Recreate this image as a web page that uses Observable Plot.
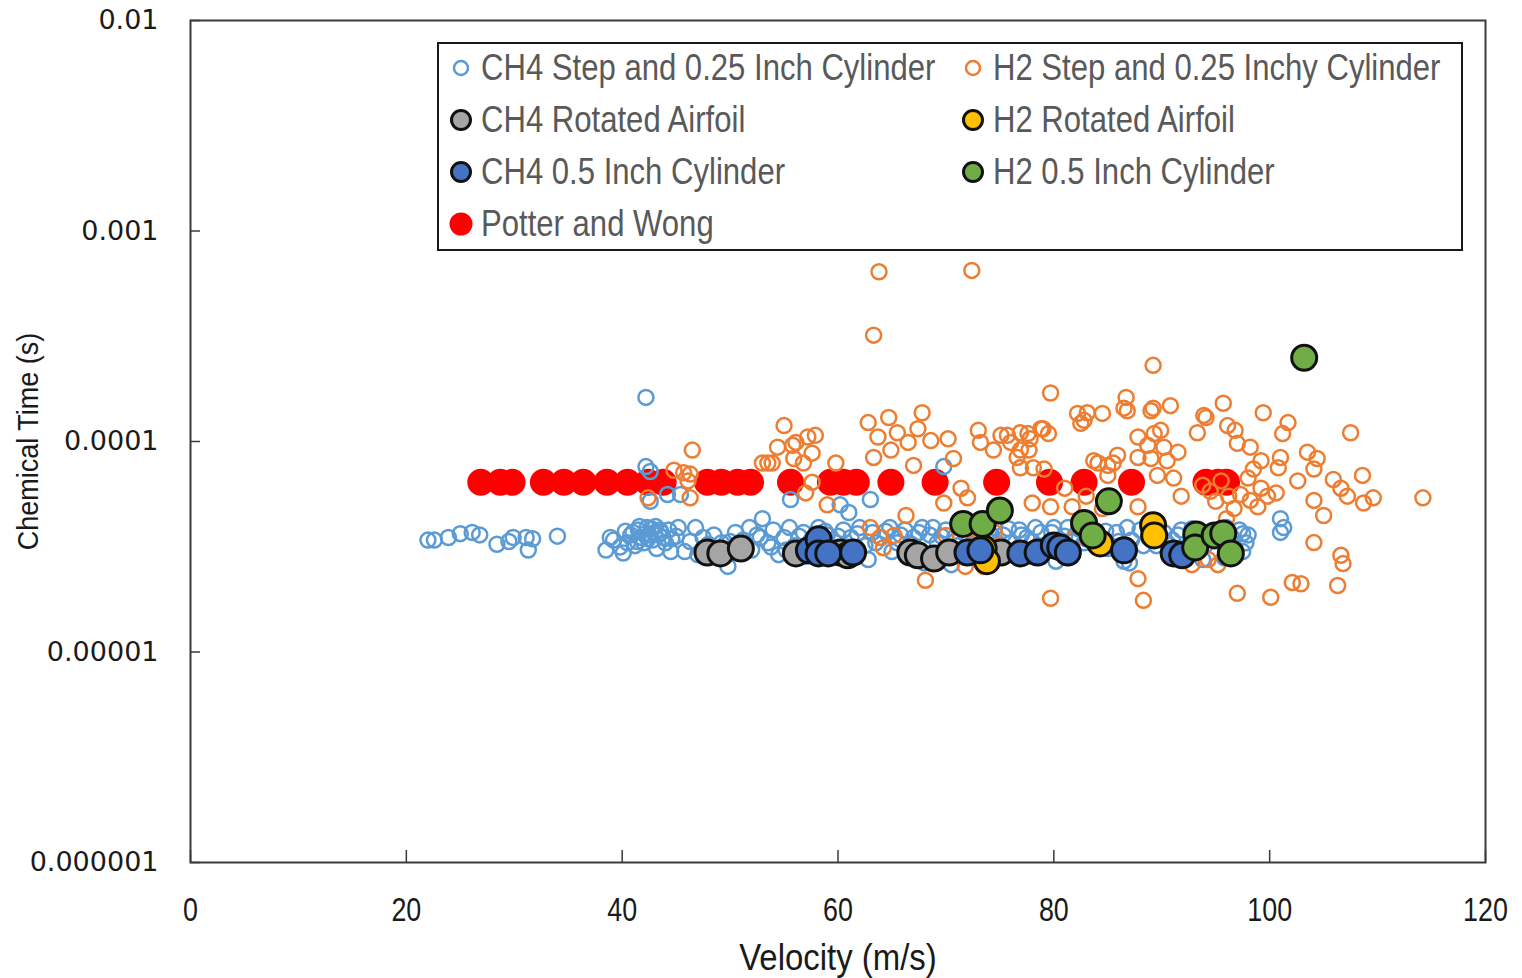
<!DOCTYPE html>
<html>
<head>
<meta charset="utf-8">
<script src="https://cdn.jsdelivr.net/npm/d3@7"></script>
<script src="https://cdn.jsdelivr.net/npm/@observablehq/plot@0.6"></script>
<style>
  html, body { margin: 0; padding: 0; background: #fff; }
  #wrap { position: relative; width: 1522px; height: 978px; }
  #legend { position: absolute; left: 437px; top: 42px; width: 1026px; height: 209px;
    box-sizing: border-box; border: 2px solid #1a1a1a; background: #fff; }
  .item { position: absolute; height: 40px; display: flex; align-items: center;
    font-family: "Liberation Sans", Arial, sans-serif; font-size: 37px; color: #595959; white-space: nowrap; }
  .item svg { margin-right: 4px; flex: none; }
  .item span { display: inline-block; transform: scaleX(0.84); transform-origin: left center; }
</style>
</head>
<body>
<div id="wrap"><div id="chart"></div><div id="legend"></div></div>
<script>
// ---- tick values and labels ----
const xTicks = [0, 20, 40, 60, 80, 100, 120];
const yTicks = [1e-2, 1e-3, 1e-4, 1e-5, 1e-6];
const yTickLabels = ["0.01", "0.001", "0.0001", "0.00001", "0.000001"];

// ---- series names ----
const seriesNames = [
  "CH4 Step and 0.25 Inch Cylinder", "H2 Step and 0.25 Inchy Cylinder",
  "CH4 Rotated Airfoil", "H2 Rotated Airfoil",
  "CH4 0.5 Inch Cylinder", "H2 0.5 Inch Cylinder",
  "Potter and Wong"
];

// ---- data: [velocity m/s, chemical time s] ----
const ch4Step = [
  [22.0,3.4e-5],[22.6,3.4e-5],[23.9,3.5e-5],[25.0,3.65e-5],[26.1,3.7e-5],[26.8,3.6e-5],[28.4,3.25e-5],
  [29.5,3.35e-5],[29.9,3.5e-5],[31.1,3.5e-5],[31.3,3.05e-5],[31.7,3.45e-5],[34.0,3.55e-5],
  [42.2,1.62e-4],[42.2,7.6e-5],[42.6,7.2e-5],[42.6,5.2e-5],[44.2,5.6e-5],[45.4,5.6e-5],
  [55.6,5.3e-5],[60.2,5.0e-5],[63.0,5.3e-5],[69.8,7.6e-5],[61.0,4.6e-5],
  [38.5,3.05e-5],[39.2,3.4e-5],[40.1,2.95e-5],[40.8,3.6e-5],[41.2,3.2e-5],[41.5,3.8e-5],[41.8,3.5e-5],
  [42.0,3.3e-5],[42.3,3.9e-5],[42.5,3.6e-5],[42.8,3.4e-5],[43.0,3.7e-5],[43.2,3.1e-5],[43.5,3.8e-5],
  [43.8,3.5e-5],[44.0,3.3e-5],[44.5,3.0e-5],[45.2,3.9e-5],[45.8,3.0e-5],[40.5,3.3e-5],[41.0,3.7e-5],
  [43.4,3.6e-5],[44.6,3.45e-5],[39.8,3.15e-5],[46.3,3.35e-5],
  [40.3,3.75e-5],[41.6,3.95e-5],[42.1,3.65e-5],[42.7,3.85e-5],[43.1,3.95e-5],[43.6,3.7e-5],[42.4,3.45e-5],
  [41.4,3.35e-5],[44.3,3.8e-5],[45.0,3.55e-5],[38.9,3.5e-5],[46.8,3.9e-5],
  [47.5,3.5e-5],[48.5,3.6e-5],[49.2,3.3e-5],[49.8,2.55e-5],[50.5,3.7e-5],[51.2,3.4e-5],[51.8,3.9e-5],
  [52.5,3.6e-5],[53.0,4.3e-5],[53.5,3.3e-5],[54.0,3.8e-5],[54.5,2.9e-5],[55.0,3.5e-5],[55.5,3.9e-5],
  [56.0,3.2e-5],[56.8,3.7e-5],[57.5,3.4e-5],[58.2,3.9e-5],[59.0,3.6e-5],[59.8,3.3e-5],[60.5,3.8e-5],
  [61.2,3.5e-5],[62.0,3.9e-5],[62.5,3.2e-5],[63.2,3.7e-5],[64.0,3.5e-5],[64.8,3.9e-5],[65.5,3.3e-5],
  [66.2,3.8e-5],[67.0,3.5e-5],[67.8,3.9e-5],[68.5,3.6e-5],[69.2,3.3e-5],[70.0,3.8e-5],[70.8,3.5e-5],
  [71.5,3.9e-5],[72.3,3.2e-5],[73.0,3.7e-5],[73.8,3.4e-5],[74.5,3.9e-5],[75.3,3.6e-5],[76.0,3.3e-5],
  [76.8,3.8e-5],[77.5,3.5e-5],[78.3,3.9e-5],[79.0,3.2e-5],[79.8,3.7e-5],[80.5,3.4e-5],[81.3,3.9e-5],
  [82.0,3.6e-5],[82.8,3.3e-5],[83.5,3.8e-5],[84.2,3.5e-5],[85.0,3.1e-5],[85.8,3.7e-5],[86.5,2.7e-5],
  [87.2,3.4e-5],[88.0,3.8e-5],[88.8,3.5e-5],[89.5,3.2e-5],[90.2,3.7e-5],[91.0,3.4e-5],[91.8,3.8e-5],
  [92.5,3.0e-5],[93.2,3.5e-5],[94.0,3.2e-5],[95.0,3.7e-5],[95.8,2.8e-5],[96.5,3.5e-5],[97.2,3.8e-5],
  [97.8,3.3e-5],[47.0,2.9e-5],[57.0,2.85e-5],[62.8,2.75e-5],[68.0,2.65e-5],[74.0,2.8e-5],[80.2,2.7e-5],
  [87.0,2.65e-5],[93.8,2.75e-5],[70.5,2.6e-5],[59.5,2.9e-5],[78.0,2.85e-5],[52.0,3.05e-5],[65.0,3.0e-5],
  [48.0,3.25e-5],[50.0,3.35e-5],[50.8,3.05e-5],[52.8,3.5e-5],[53.8,3.15e-5],[55.2,3.05e-5],[56.4,3.55e-5],
  [57.8,3.15e-5],[58.8,3.75e-5],[60.0,3.55e-5],[60.8,3.15e-5],[61.8,3.65e-5],[63.5,3.3e-5],[64.4,3.75e-5],
  [65.8,3.6e-5],[66.8,3.25e-5],[67.5,3.7e-5],[68.8,3.9e-5],[69.6,3.55e-5],[71.0,3.2e-5],[71.8,3.65e-5],
  [72.8,3.9e-5],[74.2,3.6e-5],[75.0,3.25e-5],[75.8,3.85e-5],[77.0,3.6e-5],[78.0,3.35e-5],[78.8,3.7e-5],
  [80.0,3.9e-5],[81.0,3.55e-5],[82.3,3.85e-5],[83.0,3.45e-5],[84.8,3.75e-5],[86.0,3.35e-5],[86.8,3.9e-5],
  [88.3,3.2e-5],[89.0,3.75e-5],[90.5,3.3e-5],[91.5,3.6e-5],[92.8,3.85e-5],[94.5,3.45e-5],[96.0,3.9e-5],
  [97.5,3.65e-5],[96.8,3.1e-5],
  [101.0,4.3e-5],[101.3,3.9e-5],[101.0,3.7e-5],[98.0,3.6e-5],[97.5,3.0e-5]
];

const h2Step = [
  [63.8,6.4e-4],[72.4,6.5e-4],[63.3,3.2e-4],[89.2,2.3e-4],[79.7,1.7e-4],
  [46.5,9.1e-5],[44.8,7.3e-5],[45.7,7.1e-5],[46.3,7.0e-5],[46.1,6.5e-5],[46.3,5.4e-5],[42.4,5.4e-5],
  [53.0,7.9e-5],[55.0,1.19e-4],[55.8,9.6e-5],[53.9,7.9e-5],
  [54.4,9.4e-5],[56.1,9.9e-5],[57.2,1.05e-4],[57.9,1.07e-4],[53.5,7.9e-5],[55.9,8.3e-5],[56.8,7.9e-5],
  [57.6,8.8e-5],[59.8,7.9e-5],[57.6,6.4e-5],[57.0,5.7e-5],[59.0,5.0e-5],
  [62.8,1.23e-4],[64.7,1.30e-4],[67.8,1.37e-4],[63.7,1.05e-4],[65.5,1.10e-4],[66.5,9.9e-5],[67.4,1.15e-4],
  [68.6,1.01e-4],[70.2,1.03e-4],[63.3,8.4e-5],[64.9,9.1e-5],[67.0,7.7e-5],[70.7,8.3e-5],
  [63.0,3.9e-5],[63.9,3.5e-5],[65.2,3.58e-5],[66.3,4.45e-5],[64.2,3.13e-5],[68.1,2.19e-5],[70.0,3.58e-5],
  [69.8,5.1e-5],[71.4,6.0e-5],[72.0,5.4e-5],
  [73.0,1.13e-4],[73.2,9.9e-5],[75.1,1.07e-4],[76.0,9.9e-5],[77.6,1.09e-4],[78.8,1.15e-4],[79.5,1.09e-4],
  [74.4,9.1e-5],[76.6,8.4e-5],[77.7,9.1e-5],[78.1,7.5e-5],[78.0,5.1e-5],[79.7,1.8e-5],[82.2,1.36e-4],[82.8,1.26e-4],
  [83.1,1.37e-4],[84.5,1.36e-4],[86.7,1.62e-4],[86.5,1.44e-4],[89.2,1.44e-4],[90.8,1.48e-4],[93.9,1.33e-4],[95.7,1.52e-4],
  [82.5,1.22e-4],[86.8,1.40e-4],[89.0,1.40e-4],[93.3,1.10e-4],[75.7,1.07e-4],[76.9,1.10e-4],[77.8,1.03e-4],
  [79.0,1.15e-4],[76.9,9.1e-5],[76.9,7.5e-5],[79.1,7.4e-5],[83.7,8.1e-5],[85.0,7.7e-5],[85.9,8.6e-5],
  [85.0,6.9e-5],[87.8,1.05e-4],[88.7,9.6e-5],[89.3,1.09e-4],[90.2,9.4e-5],[87.8,8.4e-5],[89.0,8.3e-5],
  [90.5,8.1e-5],[91.5,8.9e-5],[89.6,6.9e-5],[91.1,6.7e-5],[91.8,5.5e-5],[79.7,4.9e-5],[81.7,4.9e-5],
  [87.8,4.9e-5],[87.8,2.23e-5],[88.3,1.76e-5],[84.1,7.9e-5],[85.5,7.9e-5],[89.9,1.13e-4],
  [99.4,1.37e-4],[101.7,1.23e-4],[94.1,1.30e-4],[96.1,1.19e-4],[96.8,1.13e-4],[101.2,1.09e-4],[107.5,1.10e-4],
  [97.0,9.8e-5],[98.2,9.4e-5],[99.2,8.1e-5],[101.0,8.4e-5],[100.8,7.5e-5],[103.5,8.9e-5],[104.4,8.3e-5],
  [104.1,7.4e-5],[102.6,6.5e-5],[98.5,7.4e-5],[98.0,6.7e-5],[99.2,6.0e-5],[99.8,5.5e-5],[100.6,5.7e-5],
  [98.2,5.25e-5],[98.9,4.9e-5],[96.7,4.8e-5],[104.1,5.25e-5],[105.0,4.45e-5],[105.9,6.6e-5],[108.6,6.9e-5],
  [106.6,6.0e-5],[107.2,5.5e-5],[108.7,5.1e-5],[109.6,5.4e-5],[114.2,5.4e-5],[104.1,3.31e-5],[106.6,2.88e-5],
  [106.8,2.63e-5],[102.1,2.14e-5],[102.9,2.11e-5],[106.3,2.07e-5],[97.0,1.9e-5],[100.1,1.82e-5],
  [94.5,5.8e-5],[95.0,5.2e-5],[96.2,5.5e-5],[93.8,6.2e-5],[95.5,6.5e-5],[97.3,5.6e-5],[96.0,4.3e-5],
  [83.0,5.5e-5],[84.5,4.8e-5],[81.0,6.0e-5],[72.5,3.3e-5],[74.5,3.7e-5],[71.8,2.55e-5],[82.0,3.5e-5],
  [92.8,2.6e-5],[94.3,2.75e-5],[95.2,2.6e-5],[73.5,2.55e-5]
];

const ch4Airfoil = [
  [47.9,2.97e-5],[49.1,2.94e-5],[51.0,3.1e-5],[56.1,2.94e-5],[60.2,2.97e-5],[60.9,2.88e-5],
  [66.7,2.97e-5],[67.4,2.88e-5],[68.9,2.78e-5],[70.3,2.97e-5],[75.1,2.97e-5]
];

const h2Airfoil = [
  [73.5,3.1e-5],[73.8,2.7e-5],[84.3,3.28e-5],[89.2,4.0e-5],[89.3,3.58e-5]
];

const ch4Cyl05 = [
  [57.3,3.04e-5],[58.2,3.43e-5],[58.2,2.94e-5],[59.1,2.94e-5],[61.4,2.97e-5],[72.0,2.97e-5],[73.2,3.04e-5],
  [76.9,2.94e-5],[78.5,2.97e-5],[80.0,3.21e-5],[80.6,3.14e-5],[81.3,2.97e-5],[86.5,3.04e-5],[91.1,2.94e-5],[91.9,2.88e-5]
];

const h2Cyl05 = [
  [71.6,4.06e-5],[73.4,4.06e-5],[75.0,4.7e-5],[82.8,4.1e-5],[83.6,3.58e-5],[85.1,5.2e-5],
  [93.2,3.62e-5],[93.1,3.14e-5],[94.9,3.58e-5],[95.7,3.66e-5],[96.4,2.94e-5],[103.2,2.5e-4]
];

const potterWongV = [26.9,28.7,29.8,32.7,34.6,36.4,38.6,40.5,42.4,43.8,47.9,49.2,50.7,51.9,55.6,59.3,60.5,61.7,64.9,69.0,74.7,79.6,82.8,87.2,94.1,95.2,96.0];
const potterWongT = 6.4e-5;

// ---- colours ----
const C = { ch4Step:"#5B9BD5", h2Step:"#ED7D31", ch4Air:"#A5A5A5", h2Air:"#FFC000", ch4Cyl:"#4472C4", h2Cyl:"#70AD47", pw:"#FF0000" };

const potterWong = potterWongV.map(v => [v, potterWongT]);
const X = d => d[0], Y = d => d[1];
const sans = '"Liberation Sans", Arial, sans-serif';

const chart = Plot.plot({
  width: 1522, height: 978,
  marginLeft: 190, marginRight: 37, marginTop: 20, marginBottom: 116,
  style: { background: "#fff", color: "#1a1a1a", overflow: "visible" },
  x: { domain: [0, 120] },
  y: { type: "log", domain: [1e-6, 1e-2] },
  marks: [
    Plot.dot(potterWong, { x: X, y: Y, r: 13.5, fill: C.pw, stroke: "none" }),
    Plot.dot(ch4Step, { x: X, y: Y, r: 7.5, fill: "none", stroke: C.ch4Step, strokeWidth: 2.5 }),
    Plot.dot(h2Step, { x: X, y: Y, r: 7.5, fill: "none", stroke: C.h2Step, strokeWidth: 2.5 }),
    Plot.dot(ch4Airfoil, { x: X, y: Y, r: 12.5, fill: C.ch4Air, stroke: "#111", strokeWidth: 3 }),
    Plot.dot(h2Airfoil, { x: X, y: Y, r: 12.5, fill: C.h2Air, stroke: "#111", strokeWidth: 3 }),
    Plot.dot(ch4Cyl05, { x: X, y: Y, r: 12.5, fill: C.ch4Cyl, stroke: "#111", strokeWidth: 3 }),
    Plot.dot(h2Cyl05, { x: X, y: Y, r: 12.5, fill: C.h2Cyl, stroke: "#111", strokeWidth: 3 }),
    Plot.frame({ stroke: "#3a3a3a", strokeWidth: 2 }),
    Plot.tickX(xTicks, { x: d => d, insetTop: 830, stroke: "#3a3a3a", strokeWidth: 1.5 }),
    Plot.tickY(yTicks, { y: d => d, insetRight: 1285, stroke: "#3a3a3a", strokeWidth: 1.5 }),
    Plot.axisX({ ticks: xTicks, tickSize: 0, tickPadding: 34, label: null, fontSize: 34, fontFamily: sans, tickFormat: d => String(d) }),
    Plot.axisY({ ticks: yTicks, tickSize: 0, tickPadding: 32, label: null, fontSize: 27, fontFamily: '"DejaVu Sans", sans-serif', tickFormat: d => yTickLabels[yTicks.indexOf(d)] }),
    Plot.text(["Velocity (m/s)"], { frameAnchor: "bottom", dy: 96, textAnchor: "middle", lineAnchor: "middle", fontSize: 37, fontFamily: sans, fill: "#1a1a1a" }),
    Plot.text(["Chemical Time (s)"], { frameAnchor: "left", dx: -162, rotate: -90, textAnchor: "middle", lineAnchor: "middle", fontSize: 30, fontFamily: sans, fill: "#1a1a1a" })
  ]
});
document.getElementById("chart").appendChild(chart);

// horizontally condense text (reference uses a narrow, tall face); keeps y / dy untouched
function squeeze(node, k) {
  const el = d3.select(node);
  const xa = el.attr("x");
  let x = 0;
  if (xa !== null && !isNaN(+xa)) { x = +xa; el.attr("x", null); }
  const tr = el.attr("transform") || "";
  el.attr("transform", `${tr} translate(${x},0) scale(${k},1)`);
}
const svg = d3.select(chart);
svg.selectAll('g[aria-label="x-axis tick label"] text').each(function() { squeeze(this, 0.79); });
svg.selectAll('g[aria-label="text"] text').each(function() {
  const t = d3.select(this).text();
  squeeze(this, t.startsWith("Velocity") ? 0.89 : 0.9);
});

// ---- legend ----
const legendItems = [
  { name: seriesNames[0], fill: "none", stroke: C.ch4Step, r: 7, sw: 2.5, col: 0, row: 0 },
  { name: seriesNames[1], fill: "none", stroke: C.h2Step, r: 7, sw: 2.5, col: 1, row: 0 },
  { name: seriesNames[2], fill: C.ch4Air, stroke: "#111", r: 9.5, sw: 3, col: 0, row: 1 },
  { name: seriesNames[3], fill: C.h2Air, stroke: "#111", r: 9.5, sw: 3, col: 1, row: 1 },
  { name: seriesNames[4], fill: C.ch4Cyl, stroke: "#111", r: 9.5, sw: 3, col: 0, row: 2 },
  { name: seriesNames[5], fill: C.h2Cyl, stroke: "#111", r: 9.5, sw: 3, col: 1, row: 2 },
  { name: seriesNames[6], fill: C.pw, stroke: "none", r: 11.5, sw: 0, col: 0, row: 3 }
];
const legend = d3.select("#legend");
legendItems.forEach(it => {
  const div = legend.append("div").attr("class", "item")
    .style("left", (it.col === 0 ? 10 : 522) + "px")
    .style("top", (4 + it.row * 52) + "px");
  const s = div.append("svg").attr("width", 28).attr("height", 28);
  s.append("circle").attr("cx", 12).attr("cy", 14).attr("r", it.r)
    .attr("fill", it.fill).attr("stroke", it.stroke).attr("stroke-width", it.sw);
  div.append("span").text(it.name);
});
</script>
</body>
</html>
